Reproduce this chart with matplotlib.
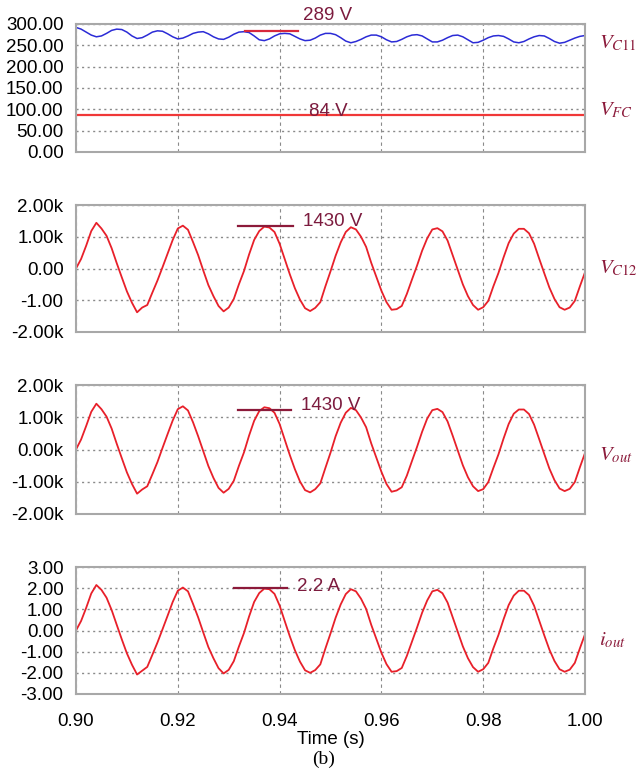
import matplotlib.pyplot as plt
import numpy as np

# sample times, one reading every 1 ms from 0.90 s to 1.00 s
time = np.round(0.90 + np.arange(101) * 0.001, 3)

v_c11 = [292, 288, 281, 274, 270, 272, 278, 285, 288, 287,
         281, 272, 266, 268, 274, 281, 284, 283, 277, 270,
         265, 267, 272, 278, 281, 282, 277, 270, 265, 264,
         269, 276, 281, 282, 280, 272, 263, 261, 265, 272,
         277, 278, 277, 271, 265, 261, 262, 267, 274, 278,
         278, 275, 268, 260, 256, 259, 264, 270, 274, 274,
         270, 263, 258, 259, 264, 270, 274, 275, 272, 265,
         258, 258, 262, 268, 273, 274, 270, 263, 256, 257,
         262, 268, 272, 273, 271, 265, 258, 256, 259, 265,
         270, 273, 272, 266, 259, 255, 257, 262, 267, 271, 273]

t_fc = [0.90, 1.00]
v_fc = [86, 86]

v_c12 = [0, 300, 720, 1180, 1440, 1260, 1030, 640, 170, -280,
         -720, -1080, -1380, -1230, -1150, -760, -380, 40, 470, 900,
         1260, 1350, 1220, 830, 420, -60, -520, -870, -1180, -1350,
         -1230, -960, -500, -80, 440, 900, 1180, 1320, 1290, 1150,
         780, 300, -180, -620, -980, -1250, -1340, -1240, -1060, -560,
         -90, 400, 820, 1150, 1300, 1230, 1000, 680, 180, -260,
         -700, -1060, -1300, -1280, -1180, -800, -350, 90, 560, 950,
         1230, 1270, 1170, 880, 420, -40, -500, -870, -1150, -1300,
         -1220, -1020, -560, -140, 350, 800, 1100, 1250, 1250, 1110,
         780, 310, -150, -600, -960, -1220, -1300, -1230, -1020, -560, -120]

v_out = [0, 310, 730, 1170, 1420, 1250, 1020, 650, 180, -270,
         -710, -1070, -1370, -1240, -1140, -770, -390, 50, 480, 900,
         1250, 1340, 1210, 840, 410, -50, -510, -880, -1190, -1340,
         -1220, -970, -510, -90, 430, 890, 1190, 1310, 1280, 1140,
         790, 310, -170, -610, -990, -1260, -1330, -1230, -1050, -570,
         -100, 410, 830, 1140, 1290, 1220, 990, 690, 190, -250,
         -690, -1070, -1310, -1270, -1170, -810, -360, 80, 550, 960,
         1220, 1260, 1160, 870, 430, -30, -490, -860, -1140, -1290,
         -1230, -1010, -570, -150, 340, 790, 1110, 1240, 1240, 1100,
         770, 320, -140, -590, -950, -1210, -1290, -1220, -1010, -550, -110]

i_out = [0.00, 0.45, 1.07, 1.75, 2.15, 1.92, 1.55, 0.97, 0.27, -0.42,
         -1.08, -1.62, -2.08, -1.90, -1.72, -1.15, -0.57, 0.06, 0.70, 1.35,
         1.88, 2.03, 1.85, 1.25, 0.62, -0.09, -0.78, -1.31, -1.78, -2.03,
         -1.86, -1.45, -0.76, -0.12, 0.66, 1.35, 1.77, 1.98, 1.95, 1.73,
         1.18, 0.45, -0.27, -0.93, -1.47, -1.88, -2.00, -1.87, -1.60, -0.85,
         -0.14, 0.60, 1.23, 1.72, 1.95, 1.85, 1.50, 1.02, 0.27, -0.39,
         -1.05, -1.59, -1.95, -1.92, -1.77, -1.20, -0.53, 0.14, 0.84, 1.42,
         1.85, 1.92, 1.76, 1.32, 0.63, -0.06, -0.75, -1.31, -1.73, -1.95,
         -1.83, -1.53, -0.84, -0.21, 0.53, 1.20, 1.65, 1.88, 1.88, 1.67,
         1.17, 0.47, -0.23, -0.90, -1.44, -1.83, -1.95, -1.85, -1.53, -0.84, -0.18]

# tick labels as printed on the scope plot
x_ticks = [0.90, 0.92, 0.94, 0.96, 0.98, 1.00]
x_labels = ["0.90", "0.92", "0.94", "0.96", "0.98", "1.00"]
y1_ticks = [0, 50, 100, 150, 200, 250, 300]
y1_labels = ["0.00", "50.00", "100.00", "150.00", "200.00", "250.00", "300.00"]
y2_ticks = [-2000, -1000, 0, 1000, 2000]
y2_labels = ["-2.00k", "-1.00", "0.00", "1.00k", "2.00k"]
y3_ticks = [-2000, -1000, 0, 1000, 2000]
y3_labels = ["-2.00k", "-1.00k", "0.00k", "1.00k", "2.00k"]
y4_ticks = [-3, -2, -1, 0, 1, 2, 3]
y4_labels = ["-3.00", "-2.00", "-1.00", "0.00", "1.00", "2.00", "3.00"]

# marker annotations: (t start, t end, level, text, text t, text level)
mark1 = (0.9332, 0.9436, 284, "289 V", 0.9495, 321)
mark1b = (None, None, None, "84 V", 0.9495, 95)
mark2 = (0.9319, 0.9426, 1334, "1430 V", 0.9445, 1490)
mark3 = (0.9318, 0.9422, 1225, "1430 V", 0.9442, 1350)
mark4 = (0.9310, 0.9414, 1.99, "2.2 A", 0.9434, 2.07)

plt.rcParams['font.family'] = ['Liberation Sans', 'DejaVu Sans']
plt.rcParams['mathtext.fontset'] = 'stix'

maroon = '#7c1b3e'
fig = plt.figure(figsize=(6.42, 7.76), dpi=100)
left, width = 76 / 642, 509 / 642
boxes = [(24, 152), (205, 332), (385, 514), (567, 694)]
axes = []
for top, bot in boxes:
    axes.append(fig.add_axes([left, 1 - bot / 776, width, (bot - top) / 776]))

def style(ax, yt, yl, lim):
    ax.set_xlim(0.90, 1.00)
    ax.set_ylim(lim)
    ax.set_yticks(yt)
    ax.set_yticklabels(yl)
    ax.set_xticks(x_ticks)
    ax.tick_params(length=0, labelsize=13.5, pad=9)
    for s in ax.spines.values():
        s.set_color('#a8a8a8')
        s.set_linewidth(1.5)
    ax.yaxis.grid(True, linestyle=(0, (1.5, 2.5)), color='#8a8a8a', linewidth=1)
    ax.xaxis.grid(True, linestyle=(0, (3, 3)), color='#8a8a8a', linewidth=0.8)
    ax.set_axisbelow(True)

def marker(ax, m, lcolor):
    t0, t1, lev, txt, tx, ty = m
    if t0 is not None:
        ax.plot([t0, t1], [lev, lev], color=lcolor, linewidth=1.6)
    ax.text(tx, ty, txt, color=maroon, fontsize=13.5, va='center',
            ha='center' if txt in ("289 V", "84 V") else 'left')

ax1, ax2, ax3, ax4 = axes
ax1.plot(time, v_c11, color='#2b2bd6', linewidth=1.1)
ax1.plot(t_fc, v_fc, color='#f03838', linewidth=1.6)
style(ax1, y1_ticks, y1_labels, (0, 300))
marker(ax1, mark1, '#d8283c')
marker(ax1, mark1b, '#d8283c')

ax2.plot(time, v_c12, color='#e8202a', linewidth=1.3)
style(ax2, y2_ticks, y2_labels, (-2000, 2000))
marker(ax2, mark2, '#8c1a3a')

ax3.plot(time, v_out, color='#e8202a', linewidth=1.3)
style(ax3, y3_ticks, y3_labels, (-2000, 2000))
marker(ax3, mark3, '#8c1a3a')

ax4.plot(time, i_out, color='#e8202a', linewidth=1.3)
style(ax4, y4_ticks, y4_labels, (-3, 3))
marker(ax4, mark4, '#8c1a3a')

for ax in (ax1, ax2, ax3):
    ax.tick_params(labelbottom=False)
ax4.set_xticklabels(x_labels)
ax4.tick_params(axis='x', pad=14)

# trace names on the right
names = [(r'$V_{C11}$', 43), (r'$V_{FC}$', 110), (r'$V_{C12}$', 268),
         (r'$V_{out}$', 455), (r'$i_{out}$', 640)]
for txt, ypx in names:
    fig.text(599 / 642, 1 - ypx / 776, txt, color='#8c1c3c', fontsize=15,
             va='center', ha='left')

fig.text(331 / 642, 1 - 740 / 776, "Time (s)", fontsize=13.5, ha='center', va='center')
fig.text(324 / 642, 1 - 759 / 776, "(b)", fontsize=14, ha='center', va='center',
         family=['Liberation Serif', 'DejaVu Serif'])

fig.savefig("out.png", dpi=100)
